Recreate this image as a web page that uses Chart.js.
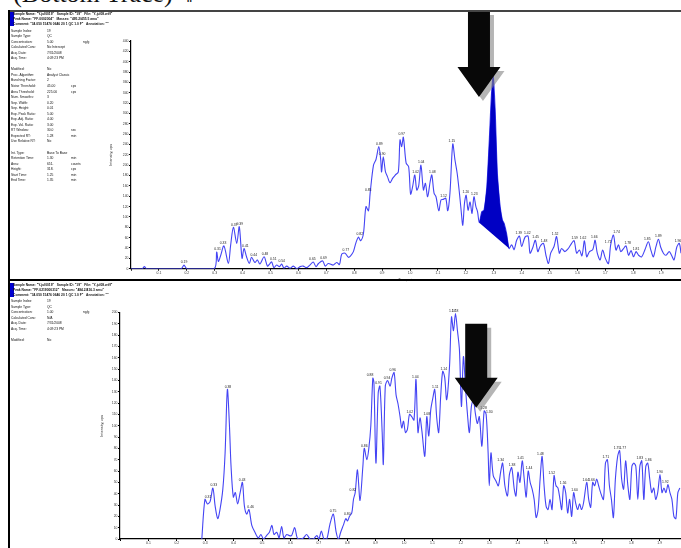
<!DOCTYPE html>
<html>
<head>
<meta charset="utf-8">
<script src="https://cdn.jsdelivr.net/npm/chart.js@4.4.1/dist/chart.umd.min.js"></script>
<style>
  body { margin: 0; width: 681px; height: 548px; overflow: hidden; background: #fff; position: relative;
         font-family: "Liberation Sans", Arial, sans-serif; }
  #caption { position: absolute; left: -2px; top: -19px; font: 26px/26px "Liberation Serif", "Times New Roman", serif;
             white-space: pre; color: #111; }
  .rule { position: absolute; background: #000; }
  .hdr { position: absolute; left: 13px; font-size: 3.3px; line-height: 5px; font-weight: bold; white-space: pre; color: #111; }
  .info { position: absolute; left: 11px; width: 90px; font-size: 3.3px; color: #111; white-space: pre; }
  .info div { position: relative; height: 5.55px; line-height: 5.55px; }
  .info span { position: absolute; top: 0; }
  .chartBox { position: absolute; }
</style>
</head>
<body>
<div id="caption">- (Bottom Trace)  ‖</div>

<div class="chartBox" style="left:100px; top:11px;"><canvas id="topChart" width="581" height="271"></canvas></div>
<div class="chartBox" style="left:90px; top:290px;"><canvas id="bottomChart" width="591" height="258"></canvas></div>

<div class="rule" style="left:8px; top:10px; width:673px; height:1.5px; background:#444;"></div>
<div class="rule" style="left:8px; top:10px; width:2px; height:538px;"></div>
<div class="rule" style="left:8px; top:278.5px; width:673px; height:2.5px;"></div>
<div class="rule" style="left:10px; top:12px; width:4px; height:14px; background:#0000d0;"></div>
<div class="rule" style="left:10px; top:283px; width:3.5px; height:14px; background:#0000d0;"></div>

<div class="hdr" id="topHdr" style="top:11.5px;"></div>
<div class="hdr" id="bottomHdr" style="top:282.5px;"></div>
<div class="info" id="topInfo" style="top:28.5px;"></div>
<div class="info" id="bottomInfo" style="top:299px;"></div>

<script>
// ---- top trace (upper chromatogram) ----
const topTimes = [
  0, 0.040, 0.048, 0.056, 0.180, 0.190, 0.200, 0.298, 0.307, 0.313,
  0.321, 0.333, 0.349, 0.357, 0.367, 0.379, 0.388, 0.398, 0.405, 0.414,
  0.424, 0.432, 0.444, 0.453, 0.462, 0.477, 0.489, 0.498, 0.504, 0.512,
  0.522, 0.532, 0.540, 0.548, 0.558, 0.570, 0.582, 0.594, 0.606, 0.617,
  0.629, 0.641, 0.653, 0.663, 0.672, 0.687, 0.696, 0.707, 0.725, 0.737,
  0.747, 0.755, 0.767, 0.779, 0.787, 0.797, 0.806, 0.815, 0.823, 0.833,
  0.842, 0.851, 0.857, 0.869, 0.878, 0.888, 0.895, 0.898, 0.904, 0.912,
  0.919, 0.928, 0.938, 0.947, 0.958, 0.964, 0.970, 0.976, 0.986, 0.995,
  1.002, 1.009, 1.017, 1.024, 1.031, 1.039, 1.048, 1.055, 1.063, 1.072,
  1.078, 1.086, 1.093, 1.103, 1.111, 1.119, 1.128, 1.135, 1.143, 1.153,
  1.161, 1.169, 1.177, 1.183, 1.189, 1.195, 1.201, 1.208, 1.215, 1.222,
  1.229, 1.236, 1.242, 1.248, 1.257, 1.265, 1.275, 1.284, 1.292, 1.298,
  1.305, 1.313, 1.323, 1.331, 1.337, 1.346, 1.355, 1.364, 1.373, 1.382,
  1.392, 1.400, 1.412, 1.423, 1.430, 1.440, 1.449, 1.458, 1.466, 1.478,
  1.487, 1.496, 1.504, 1.516, 1.525, 1.535, 1.543, 1.555, 1.567, 1.579,
  1.588, 1.597, 1.607, 1.616, 1.625, 1.633, 1.643, 1.655, 1.663, 1.671,
  1.681, 1.690, 1.700, 1.711, 1.719, 1.729, 1.738, 1.747, 1.755, 1.765,
  1.774, 1.783, 1.792, 1.801, 1.810, 1.819, 1.830, 1.842, 1.854, 1.863,
  1.872, 1.881, 1.890, 1.898, 1.908, 1.917, 1.929, 1.937, 1.946, 1.956,
  1.965, 1.971
];
const topValues = [
  0, 0, 4, 0, 0, 7, 0, 0, 32, 14,
  25, 44, 10, 45, 80, 49, 81, 20, 39, 23,
  10, 22, 12, 17, 9, 23, 5, 10, 13, 2,
  7, 4, 9, 1, 5, 1, 5, 0, 4, 5,
  2, 7, 13, 4, 10, 15, 5, 10, 7, 12,
  8, 28, 30, 22, 25, 33, 50, 61, 54, 68,
  120, 112, 146, 200, 211, 236, 210, 187, 216, 187,
  178, 166, 175, 181, 187, 249, 236, 254, 204, 197,
  144, 158, 181, 152, 160, 200, 152, 165, 139, 168,
  181, 146, 139, 112, 133, 134, 136, 112, 146, 241,
  210, 184, 146, 113, 84, 126, 142, 113, 129, 107,
  139, 120, 110, 89, 110, 113, 158, 249, 339, 372,
  307, 184, 120, 94, 88, 68, 39, 46, 37, 55,
  63, 43, 61, 63, 30, 41, 55, 33, 43, 49,
  26, 10, 30, 43, 62, 30, 39, 33, 39, 49,
  54, 30, 36, 25, 54, 23, 33, 37, 55, 30,
  17, 36, 20, 10, 46, 65, 36, 46, 33, 39,
  44, 26, 35, 23, 33, 26, 23, 37, 52, 36,
  23, 42, 57, 42, 30, 26, 33, 26, 17, 42,
  49, 30
];
const topPeakLabels = [
  0.19, 0.31, 0.33, 0.37, 0.39, 0.41, 0.44, 0.48, 0.51, 0.54, 0.65, 0.69,
  0.77, 0.82, 0.85, 0.89, 0.90, 0.97, 1.02, 1.04, 1.08, 1.12, 1.15, 1.20, 1.23,
  1.39, 1.42, 1.45, 1.48, 1.52, 1.59, 1.62, 1.66, 1.71, 1.74, 1.78, 1.81, 1.85, 1.89, 1.96
];
const topIntegration = [1.248, 1.355];   // start / end time of the integrated peak
const topArrow = [1.247, 332, 498];       // tip time, tip intensity, tail intensity

// ---- bottom trace (lower chromatogram) ----
const bottomTimes = [
  0.288, 0.299, 0.308, 0.317, 0.327, 0.335, 0.344, 0.352, 0.362, 0.370,
  0.378, 0.385, 0.391, 0.399, 0.406, 0.414, 0.423, 0.431, 0.438, 0.446,
  0.454, 0.464, 0.475, 0.487, 0.496, 0.505, 0.516, 0.526, 0.535, 0.542,
  0.552, 0.560, 0.569, 0.577, 0.587, 0.596, 0.604, 0.615, 0.624, 0.634,
  0.646, 0.657, 0.669, 0.681, 0.693, 0.700, 0.709, 0.718, 0.728, 0.739,
  0.751, 0.761, 0.769, 0.777, 0.786, 0.795, 0.801, 0.808, 0.816, 0.822,
  0.828, 0.836, 0.845, 0.855, 0.860, 0.869, 0.876, 0.883, 0.890, 0.894,
  0.901, 0.909, 0.915, 0.923, 0.927, 0.934, 0.942, 0.951, 0.957, 0.965,
  0.972, 0.979, 0.986, 0.992, 0.998, 1.005, 1.012, 1.019, 1.027, 1.035,
  1.042, 1.049, 1.056, 1.063, 1.073, 1.080, 1.087, 1.094, 1.101, 1.108,
  1.115, 1.122, 1.129, 1.136, 1.143, 1.150, 1.160, 1.167, 1.174, 1.181,
  1.188, 1.195, 1.202, 1.209, 1.216, 1.223, 1.230, 1.237, 1.244, 1.251,
  1.258, 1.265, 1.274, 1.282, 1.289, 1.296, 1.300, 1.306, 1.314, 1.324,
  1.332, 1.340, 1.347, 1.355, 1.364, 1.371, 1.379, 1.388, 1.394, 1.401,
  1.408, 1.416, 1.423, 1.430, 1.437, 1.444, 1.451, 1.458, 1.465, 1.472,
  1.479, 1.486, 1.493, 1.500, 1.507, 1.514, 1.521, 1.528, 1.535, 1.542,
  1.549, 1.555, 1.562, 1.569, 1.576, 1.583, 1.590, 1.597, 1.604, 1.611,
  1.618, 1.625, 1.632, 1.643, 1.650, 1.657, 1.664, 1.671, 1.678, 1.685,
  1.692, 1.702, 1.709, 1.716, 1.723, 1.730, 1.737, 1.744, 1.752, 1.759,
  1.766, 1.773, 1.780, 1.788, 1.795, 1.802, 1.809, 1.816, 1.823, 1.830,
  1.837, 1.844, 1.851, 1.858, 1.865, 1.872, 1.879, 1.886, 1.893, 1.901,
  1.908, 1.915, 1.922, 1.929, 1.936, 1.943, 1.950, 1.957, 1.964, 1.971
];
const bottomValues = [
  0, 35, 31, 33, 45, 29, 18, 26, 44, 76,
  132, 102, 64, 37, 41, 31, 41, 50, 29, 22,
  26, 12, 6, 1, 4, 0, 3, 6, 12, 4,
  6, 1, 11, 1, 4, 3, 3, 10, 1, 0,
  1, 4, 0, 0, 3, 0, 7, 0, 0, 13,
  22, 6, 0, 6, 12, 18, 16, 20, 23, 35,
  41, 61, 34, 64, 80, 70, 80, 100, 142, 138,
  67, 129, 135, 94, 66, 135, 140, 135, 142, 147,
  127, 119, 108, 98, 104, 94, 97, 110, 108, 105,
  141, 94, 107, 95, 73, 108, 91, 114, 124, 132,
  107, 94, 126, 148, 143, 123, 152, 196, 184, 199,
  184, 167, 117, 161, 135, 111, 94, 117, 123, 111,
  102, 108, 82, 113, 110, 76, 47, 76, 56, 51,
  47, 59, 67, 47, 38, 57, 63, 44, 38, 59,
  50, 69, 53, 37, 60, 50, 44, 35, 19, 26,
  53, 73, 47, 29, 26, 35, 26, 56, 47, 45,
  35, 26, 47, 41, 23, 35, 20, 41, 32, 26,
  31, 26, 32, 50, 35, 28, 50, 47, 53, 47,
  41, 35, 67, 70, 47, 35, 19, 53, 73, 78,
  53, 44, 69, 47, 35, 64, 67, 64, 35, 64,
  69, 35, 64, 67, 53, 41, 45, 35, 41, 57,
  41, 45, 41, 48, 41, 35, 20, 18, 41, 45
];
const bottomPeakLabels = [
  0.31, 0.33, 0.38, 0.43, 0.46, 0.75, 0.80, 0.82, 0.86, 0.88, 0.91, 0.94, 0.96,
  1.02, 1.04, 1.08, 1.11, 1.14, 1.17, 1.18, 1.28, 1.30, 1.34, 1.38, 1.41, 1.44,
  1.48, 1.52, 1.56, 1.60, 1.64, 1.66, 1.71, 1.75, 1.77, 1.83, 1.86, 1.90, 1.92
];
const bottomArrow = [1.254, 116, 190];

// ---- text blocks ----
const topHeader = [
  'Sample Name: "Y-jul0019"   Sample ID: "19"   File: "Y-jul08.wiff"',
  'Peak Name: "FF-0002004"   Masses: "495.2/455.5 amu"',
  'Comment: "34.050 15476 0646 20 1 QC 1.0 F"   Annotation: ""'
];
const topInfo = [
  ['Sample Index:', '19', ''], ['Sample Type:', 'QC', ''], ['Concentration:', '5.00', 'ng/g'],
  ['Calculated Conc:', 'No Intercept', ''], ['Acq. Date:', '7/31/2008', ''], ['Acq. Time:', '4:09:23 PM', ''],
  null,
  ['Modified:', 'No', ''], ['Proc. Algorithm:', 'Analyst Classic', ''], ['Bunching Factor:', '2', ''],
  ['Noise Threshold:', '45.00', 'cps'], ['Area Threshold:', '225.00', 'cps'], ['Num. Smooths:', '3', ''],
  ['Sep. Width:', '0.20', ''], ['Sep. Height:', '0.01', ''], ['Exp. Peak Ratio:', '5.00', ''],
  ['Exp. Adj. Ratio:', '4.00', ''], ['Exp. Val. Ratio:', '3.00', ''], ['RT Window:', '30.0', 'sec'],
  ['Expected RT:', '1.28', 'min'], ['Use Relative RT:', 'No', ''],
  null,
  ['Int. Type:', 'Base To Base', ''], ['Retention Time:', '1.30', 'min'], ['Area:', '651.', 'counts'],
  ['Height:', '318.', 'cps'], ['Start Time:', '1.25', 'min'], ['End Time:', '1.35', 'min']
];
const bottomHeader = [
  'Sample Name: "Y-jul0019"   Sample ID: "19"   File: "Y-jul08.wiff"',
  'Peak Name: "FF-0219000312"   Masses: "484.2/416.3 amu"',
  'Comment: "34.050 15476 0646 20 1 QC 1.0 F"   Annotation: ""'
];
const bottomInfo = [
  ['Sample Index:', '19', ''], ['Sample Type:', 'QC', ''], ['Concentration:', '1.00', 'ng/g'],
  ['Calculated Conc:', 'N/A', ''], ['Acq. Date:', '7/31/2008', ''], ['Acq. Time:', '4:09:23 PM', ''],
  null,
  ['Modified:', 'No', '']
];

function fillText(hdrId, infoId, header, rows) {
  document.getElementById(hdrId).textContent = header.join('\n');
  const box = document.getElementById(infoId);
  rows.forEach(r => {
    const line = document.createElement('div');
    if (r) {
      line.innerHTML = `<span style="left:0">${r[0]}</span><span style="left:36px">${r[1]}</span>` +
                       `<span style="left:${r[2] === 'ng/g' ? 72 : 60}px">${r[2]}</span>`;
    }
    box.appendChild(line);
  });
}
fillText('topHdr', 'topInfo', topHeader, topInfo);
fillText('bottomHdr', 'bottomInfo', bottomHeader, bottomInfo);

const FONT = '"Liberation Sans", Arial, sans-serif';
const LINE_BLUE = '#4444f4';

// peak labels, integrated area and the pointer arrow
const extrasPlugin = {
  id: 'extras',
  afterDatasetsDraw(chart, args, opts) {
    const { ctx, scales: { x, y } } = chart;
    const pts = chart.data.datasets[0].data;
    ctx.save();

    if (opts.area) {
      const seg = pts.filter(p => p.x >= opts.area[0] - 1e-9 && p.x <= opts.area[1] + 1e-9);
      ctx.beginPath();
      seg.forEach((p, i) => {
        const px = x.getPixelForValue(p.x), py = y.getPixelForValue(p.y);
        if (i === 0) ctx.moveTo(px, py); else ctx.lineTo(px, py);
      });
      ctx.closePath();
      ctx.fillStyle = '#0000c4';
      ctx.fill();
    }

    ctx.font = '3.4px ' + FONT;
    ctx.fillStyle = '#222';
    ctx.textAlign = 'center';
    ctx.textBaseline = 'bottom';
    opts.labels.forEach(t => {
      let best = null;
      pts.forEach(p => {
        if (Math.abs(p.x - t) <= 0.012 && (!best || p.y > best.y)) best = p;
      });
      if (best) ctx.fillText(t.toFixed(2), x.getPixelForValue(t), y.getPixelForValue(best.y) - 1);
    });

    const [at, av, atail] = opts.arrow;
    const cx = x.getPixelForValue(at), tipY = y.getPixelForValue(av), tailY = y.getPixelForValue(atail);
    const shaftW = 22, headW = 43, headH = 30;
    const arrowPath = (dx, dy) => {
      ctx.beginPath();
      ctx.moveTo(cx - shaftW / 2 + dx, tailY + dy);
      ctx.lineTo(cx + shaftW / 2 + dx, tailY + dy);
      ctx.lineTo(cx + shaftW / 2 + dx, tipY - headH + dy);
      ctx.lineTo(cx + headW / 2 + dx, tipY - headH + dy);
      ctx.lineTo(cx + dx, tipY + dy);
      ctx.lineTo(cx - headW / 2 + dx, tipY - headH + dy);
      ctx.lineTo(cx - shaftW / 2 + dx, tipY - headH + dy);
      ctx.closePath();
    };
    arrowPath(4, 4);
    ctx.fillStyle = 'rgba(120,120,120,0.55)';
    ctx.fill();
    arrowPath(0, 0);
    ctx.fillStyle = '#080808';
    ctx.fill();
    ctx.restore();
  }
};

function makeChart(id, times, values, o) {
  const points = times.map((t, i) => ({ x: t, y: values[i] }));
  return new Chart(document.getElementById(id), {
    type: 'line',
    data: {
      datasets: [{
        data: points,
        borderColor: LINE_BLUE,
        borderWidth: 1.1,
        pointRadius: 0,
        tension: 0.3,
        fill: false
      }]
    },
    options: {
      responsive: false,
      animation: false,
      events: [],
      layout: { autoPadding: false, padding: { top: o.padTop, left: 0, right: 0, bottom: 0 } },
      plugins: {
        legend: { display: false },
        tooltip: { enabled: false },
        extras: { labels: o.labels, area: o.area, arrow: o.arrow }
      },
      scales: {
        x: {
          type: 'linear',
          min: 0,
          max: o.xMax,
          bounds: 'data',
          afterFit: s => { s.height = o.xAxisH; },
          border: { color: '#000', width: 1.2 },
          grid: { drawOnChartArea: false, drawTicks: true, tickLength: 2, color: '#000' },
          ticks: {
            stepSize: 0.1, includeBounds: false, autoSkip: false, maxRotation: 0, padding: 0.5,
            color: '#333', font: { size: 3.4, family: FONT },
            callback: v => (v === 0 ? '' : v.toFixed(1))
          },
          title: { display: o.xTitle, text: 'Time, min', color: '#333', font: { size: 3.6, family: FONT }, padding: 0 }
        },
        y: {
          type: 'linear',
          min: 0,
          max: o.yMax,
          bounds: 'data',
          afterFit: s => { s.width = o.yAxisW; },
          border: { color: '#000', width: 1.2 },
          grid: { drawOnChartArea: false, drawTicks: true, tickLength: 2, color: '#000' },
          ticks: {
            stepSize: o.yStep, autoSkip: false, padding: 0.5,
            color: '#333', font: { size: 3.4, family: FONT },
            callback: v => String(v)
          },
          title: { display: true, text: 'Intensity, cps', color: '#333', font: { size: 3.8, family: FONT },
                   padding: { top: o.yTitlePad, bottom: 0 } }
        }
      }
    },
    plugins: [extrasPlugin]
  });
}

makeChart('topChart', topTimes, topValues, {
  padTop: 30, xAxisH: 13.3, yAxisW: 31, xMax: 1.971, yMax: 440, yStep: 20, yTitlePad: 9,
  xTitle: true, labels: topPeakLabels, area: topIntegration, arrow: topArrow
});
makeChart('bottomChart', bottomTimes, bottomValues, {
  padTop: 22.5, xAxisH: 9, yAxisW: 30, xMax: 1.975, yMax: 200, yStep: 10, yTitlePad: 10,
  xTitle: false, labels: bottomPeakLabels, area: null, arrow: bottomArrow
});
</script>
</body>
</html>
